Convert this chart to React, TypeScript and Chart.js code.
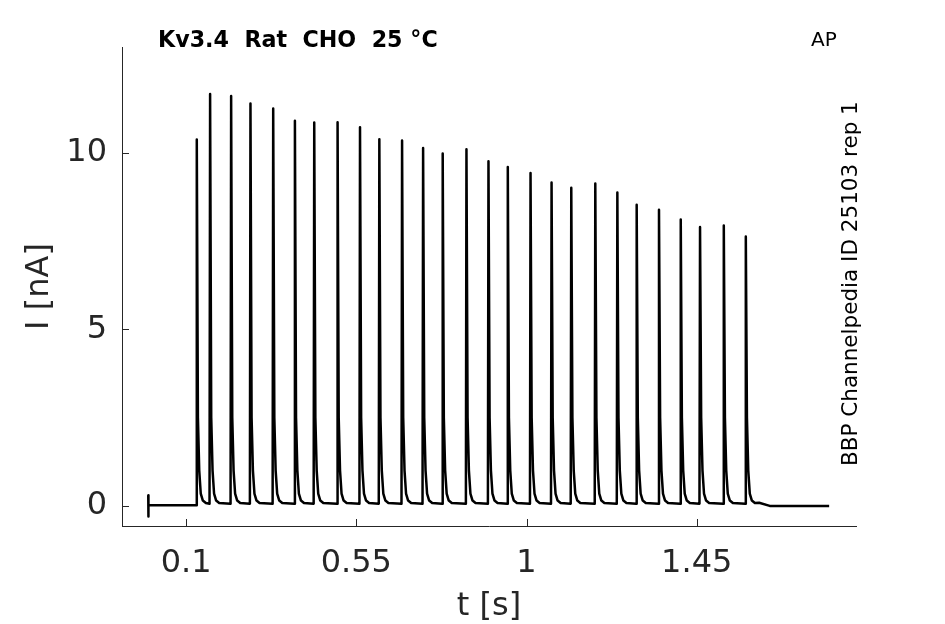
import React, { useEffect, useRef } from "react";
import { Chart, registerables } from "chart.js";

Chart.register(...registerables);

// spike train
const spikeTimes = [
  0.1283, 0.1635, 0.2191, 0.2702, 0.3303, 0.3877, 0.4388, 0.5005, 0.5598,
  0.6109, 0.671, 0.7266, 0.7784, 0.8412, 0.8994, 0.9505, 1.0106, 1.0662,
  1.1183, 1.1818, 1.2401, 1.2912, 1.3502, 1.4077, 1.4587, 1.5215, 1.5797,
];
const spikePeaks = [
  10.38, 11.67, 11.61, 11.4, 11.26, 10.91, 10.86, 10.87, 10.73, 10.39, 10.35,
  10.14, 9.98, 10.1, 9.76, 9.6, 9.43, 9.16, 9.01, 9.13, 8.88, 8.53, 8.39, 8.11,
  7.9, 7.94, 7.63,
];
// decay after each peak (seconds after peak, nA)
const tailOffsets = [0.003, 0.0065, 0.0105, 0.016, 0.024];
const tailValues = [2.5, 1.0, 0.35, 0.15, 0.08];
const trainBaseline = 0.06;
// start of the sweep: artifact and flat holding current
const startTimes = [0, 0, 0.001];
const startValues = [0.3, -0.3, 0.02];
// end of the sweep after the last spike
const endTimes = [1.615, 1.643, 1.8];
const endValues = [0.09, 0.0, 0.0];

const xTicks = [0.1, 0.55, 1, 1.45];
const yTicks = [0, 5, 10];

const buildTrace = () => {
  const pts: { x: number; y: number }[] = [];
  startTimes.forEach((t, i) => pts.push({ x: t, y: startValues[i] }));
  pts.push({ x: spikeTimes[0] - 0.0015, y: startValues[startValues.length - 1] });
  spikeTimes.forEach((t0, i) => {
    pts.push({ x: t0, y: spikePeaks[i] });
    tailOffsets.forEach((dt, k) => pts.push({ x: t0 + dt, y: tailValues[k] }));
    if (i < spikeTimes.length - 1) {
      pts.push({ x: spikeTimes[i + 1] - 0.0015, y: trainBaseline });
    }
  });
  endTimes.forEach((t, i) => pts.push({ x: t, y: endValues[i] }));
  return pts;
};

const AXIS_COLOR = "#262626";
const FONT = "DejaVu Sans";

// MATLAB-style ticks pointing into the plot
const inwardTicks = {
  id: "inwardTicks",
  afterDraw: (chart: any) => {
    const { ctx, chartArea, scales } = chart;
    ctx.save();
    ctx.strokeStyle = AXIS_COLOR;
    ctx.lineWidth = 1;
    ctx.beginPath();
    scales.x.ticks.forEach((t: any) => {
      const px = Math.round(scales.x.getPixelForValue(t.value)) + 0.5;
      ctx.moveTo(px, chartArea.bottom);
      ctx.lineTo(px, chartArea.bottom - 7);
    });
    scales.y.ticks.forEach((t: any) => {
      const py = Math.round(scales.y.getPixelForValue(t.value)) + 0.5;
      ctx.moveTo(chartArea.left, py);
      ctx.lineTo(chartArea.left + 7, py);
    });
    ctx.stroke();
    ctx.restore();
  },
};

export default function App() {
  const canvasRef = useRef<HTMLCanvasElement | null>(null);

  useEffect(() => {
    const ctx = canvasRef.current?.getContext("2d");
    if (!ctx) return;

    const chart = new Chart(ctx, {
      type: "line",
      data: {
        datasets: [
          {
            data: buildTrace(),
            borderColor: "#000000",
            borderWidth: 2.5,
            pointRadius: 0,
            tension: 0,
            fill: false,
            borderJoinStyle: "round",
          },
        ],
      },
      options: {
        animation: false,
        responsive: false,
        events: [],
        layout: { padding: { left: 0, top: 47, right: 89, bottom: 0 } },
        plugins: {
          legend: { display: false },
          tooltip: { enabled: false },
        },
        scales: {
          x: {
            type: "linear",
            min: -0.0694,
            max: 1.871,
            afterBuildTicks: (s: any) => {
              s.ticks = xTicks.map((v) => ({ value: v }));
            },
            afterFit: (s: any) => {
              s.height = 98;
            },
            ticks: {
              autoSkip: false,
              maxRotation: 0,
              padding: 10,
              color: AXIS_COLOR,
              font: { family: FONT, size: 32 },
              callback: (v: any) => String(v),
            },
            grid: { display: false },
            border: { color: AXIS_COLOR, width: 1 },
            title: {
              display: true,
              text: "t [s]",
              color: AXIS_COLOR,
              font: { family: FONT, size: 32 },
              padding: { top: 0, bottom: -2 },
            },
          },
          y: {
            type: "linear",
            min: -0.57,
            max: 13.0,
            afterBuildTicks: (s: any) => {
              s.ticks = yTicks.map((v) => ({ value: v }));
            },
            afterFit: (s: any) => {
              s.width = 122;
            },
            ticks: {
              autoSkip: false,
              padding: 7,
              color: AXIS_COLOR,
              font: { family: FONT, size: 32 },
              callback: (v: any) => String(v),
            },
            grid: { display: false },
            border: { color: AXIS_COLOR, width: 1 },
            title: {
              display: true,
              text: "I [nA]",
              color: AXIS_COLOR,
              font: { family: FONT, size: 32 },
              padding: { top: 20, bottom: 0 },
            },
          },
        },
      },
      plugins: [inwardTicks],
    });

    return () => {
      chart.destroy();
    };
  }, []);

  return (
    <div
      style={{
        position: "absolute",
        left: 0,
        top: 0,
        width: 945,
        height: 624,
        background: "#ffffff",
        fontFamily: FONT,
      }}
    >
      <canvas ref={canvasRef} width={945} height={624} />
      <div
        style={{
          position: "absolute",
          left: 158,
          top: 28,
          fontSize: 22.2,
          lineHeight: "22px",
          fontWeight: "bold",
          whiteSpace: "pre",
          color: "#000",
        }}
      >
        {"Kv3.4  Rat  CHO  25 °C"}
      </div>
      <div
        style={{
          position: "absolute",
          left: 811,
          top: 29,
          fontSize: 20,
          lineHeight: "20px",
          whiteSpace: "pre",
          color: "#000",
        }}
      >
        AP
      </div>
      <div
        style={{
          position: "absolute",
          left: 839,
          top: 466,
          fontSize: 21.5,
          lineHeight: "21.5px",
          whiteSpace: "pre",
          color: "#000",
          transformOrigin: "0 0",
          transform: "rotate(-90deg)",
        }}
      >
        BBP Channelpedia ID 25103 rep 1
      </div>
    </div>
  );
}
